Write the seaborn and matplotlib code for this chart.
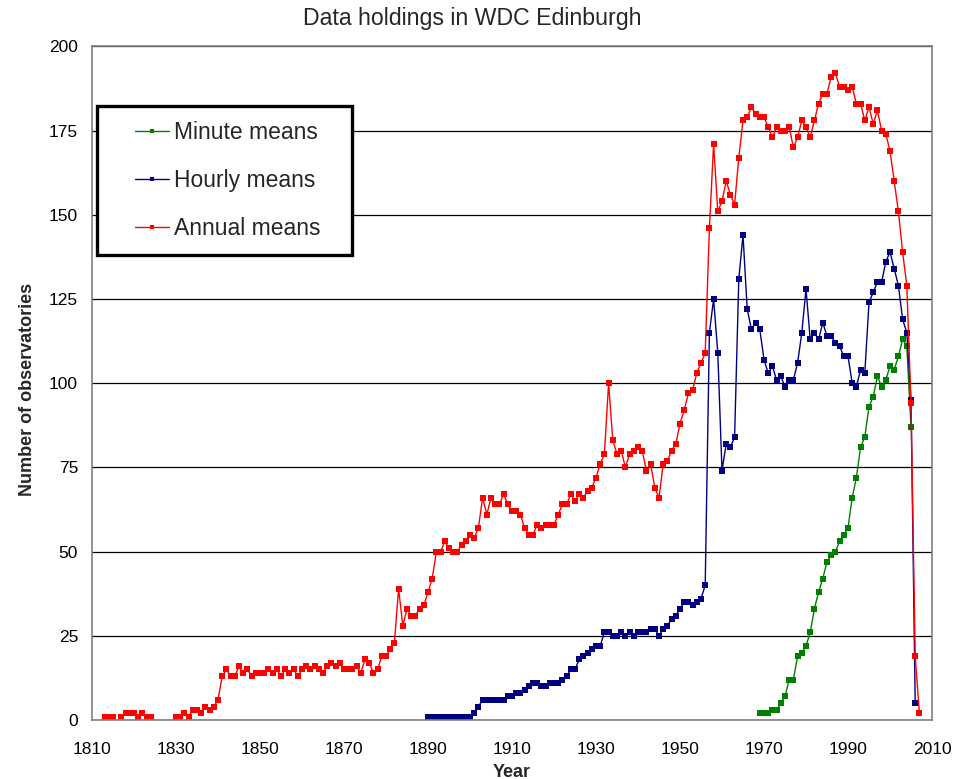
import matplotlib
matplotlib.use("Agg")
import matplotlib.pyplot as plt
from matplotlib.patches import Rectangle
from matplotlib.ticker import MultipleLocator
import numpy as np
import pandas as pd
import seaborn as sns

# one value per year, None = no data for that year
annual_first_year = 1813
annual_values = [1, 1, 1, None, 1, 2, 2, 2, 1, 2, 1, 1,            # 1813-1824
                 None, None, None, None, None,                      # 1825-1829
                 1, 1, 2, 1, 3, 3, 2, 4, 3, 4,                      # 1830-1839
                 6, 13, 15, 13, 13, 16, 14, 15, 13, 14,             # 1840-1849
                 14, 14, 15, 14, 15, 13, 15, 14, 15, 13,            # 1850-1859
                 15, 16, 15, 16, 15, 14, 16, 17, 16, 17,            # 1860-1869
                 15, 15, 15, 16, 14, 18, 17, 14, 15, 19,            # 1870-1879
                 19, 21, 23, 39, 28, 33, 31, 31, 33, 34,            # 1880-1889
                 38, 42, 50, 50, 53, 51, 50, 50, 52, 53,            # 1890-1899
                 55, 54, 57, 66, 61, 66, 64, 64, 67, 64,            # 1900-1909
                 62, 62, 61, 57, 55, 55, 58, 57, 58, 58,            # 1910-1919
                 58, 61, 64, 64, 67, 65, 67, 66, 68, 69,            # 1920-1929
                 72, 76, 79, 100, 83, 79, 80, 75, 79, 80,           # 1930-1939
                 81, 80, 74, 76, 69, 66, 76, 77, 80, 82,            # 1940-1949
                 88, 92, 97, 98, 103, 106, 109, 146, 171, 151,      # 1950-1959
                 154, 160, 156, 153, 167, 178, 179, 182, 180, 179,  # 1960-1969
                 179, 176, 173, 176, 175, 175, 176, 170, 173, 178,  # 1970-1979
                 176, 173, 178, 183, 186, 186, 191, 192, 188, 188,  # 1980-1989
                 187, 188, 183, 183, 178, 182, 177, 181, 175, 174,  # 1990-1999
                 169, 160, 151, 139, 129, 94, 19, 2]                # 2000-2007

hourly_first_year = 1890
hourly_values = [1, 1, 1, 1, 1, 1, 1, 1, 1, 1,                      # 1890-1899
                 1, 2, 4, 6, 6, 6, 6, 6, 6, 7,                      # 1900-1909
                 7, 8, 8, 9, 10, 11, 11, 10, 10, 11,                # 1910-1919
                 11, 11, 12, 13, 15, 15, 18, 19, 20, 21,            # 1920-1929
                 22, 22, 26, 26, 25, 25, 26, 25, 26, 25,            # 1930-1939
                 26, 26, 26, 27, 27, 25, 27, 28, 30, 31,            # 1940-1949
                 33, 35, 35, 34, 35, 36, 40, 115, 125, 109,         # 1950-1959
                 74, 82, 81, 84, 131, 144, 122, 116, 118, 116,      # 1960-1969
                 107, 103, 105, 101, 102, 99, 101, 101, 106, 115,   # 1970-1979
                 128, 113, 115, 113, 118, 114, 114, 112, 111, 108,  # 1980-1989
                 108, 100, 99, 104, 103, 124, 127, 130, 130, 136,   # 1990-1999
                 139, 134, 129, 119, 115, 95, 5]                    # 2000-2006

minute_first_year = 1969
minute_values = [2,                                                 # 1969
                 2, 2, 3, 3, 5, 7, 12, 12, 19, 20,                  # 1970-1979
                 22, 26, 33, 38, 42, 47, 49, 50, 53, 55,            # 1980-1989
                 57, 66, 72, 81, 84, 93, 96, 102, 99, 101,          # 1990-1999
                 105, 104, 108, 113, 111, 87]                       # 2000-2005

series_names = ["Minute means", "Hourly means", "Annual means"]
series_colors = ["#008000", "#000080", "#FF0000"]


def to_rows(name, first_year, values):
    # split the series at missing years so the line is not joined over gaps
    rows = []
    seg = 0
    for i, v in enumerate(values):
        if v is None:
            seg += 1
            continue
        rows.append({"year": first_year + i, "count": v,
                     "series": name, "segment": f"{name}-{seg}"})
    return rows


rows = (to_rows("Minute means", minute_first_year, minute_values)
        + to_rows("Hourly means", hourly_first_year, hourly_values)
        + to_rows("Annual means", annual_first_year, annual_values))
df = pd.DataFrame(rows)

sns.set_theme(style="white")
plt.rcParams["font.family"] = ["Liberation Sans", "DejaVu Sans"]

fig = plt.figure(figsize=(9.69, 7.79), dpi=100)
ax = fig.add_axes([92 / 969, 1 - 720 / 779, 840 / 969, (720 - 46.4) / 779])

sns.lineplot(data=df, x="year", y="count", hue="series", units="segment",
             estimator=None, hue_order=series_names,
             palette=dict(zip(series_names, series_colors)),
             marker="s", markersize=4.4, markeredgewidth=0,
             linewidth=1.0, ax=ax, legend=True)

ax.set_xlim(1810, 2010)
ax.set_ylim(0, 200)
ax.set_xticks(range(1810, 2011, 20))
ax.xaxis.set_minor_locator(MultipleLocator(5))
ax.yaxis.set_major_locator(MultipleLocator(25))
ax.tick_params(axis="both", which="both", direction="out", length=4,
               width=1, color="#808080", labelsize=12.5, labelcolor="black")
ax.tick_params(axis="x", which="major", pad=12)
ax.tick_params(axis="y", which="major", pad=6)
ax.yaxis.grid(True, color="black", linewidth=0.9)
ax.set_axisbelow(True)
for side in ["left", "right", "top", "bottom"]:
    ax.spines[side].set_color("#808080")
    ax.spines[side].set_linewidth(1.2)

ax.set_xlabel("Year", fontsize=13, fontweight="bold")
ax.set_ylabel("Number of observatories", fontsize=13, fontweight="bold")
ax.xaxis.set_label_coords(0.5, -0.065)
ax.yaxis.set_label_coords(-0.067, 0.49)

fig.text(472 / 969, 1 - 19 / 779, "Data holdings in WDC Edinburgh",
         ha="center", va="center", fontsize=16.7)

# legend frame drawn as a box, legend entries placed inside it
frame = Rectangle((5 / 840, (720 - 255) / 673.6), 255 / 840, 149 / 673.6,
                  transform=ax.transAxes, facecolor="white",
                  edgecolor="black", linewidth=2.4, zorder=4)
ax.add_patch(frame)

handles, labels = ax.get_legend_handles_labels()
leg = ax.legend(handles, labels, loc="upper left",
                bbox_to_anchor=((135 - 92) / 840, (720 - 121) / 673.6),
                borderaxespad=0, borderpad=0, fontsize=16.5, frameon=False,
                labelspacing=1.1, handlelength=1.5, handletextpad=0.2,
                markerscale=0.8)
leg.set_zorder(5)

fig.savefig("out.png", dpi=100)
